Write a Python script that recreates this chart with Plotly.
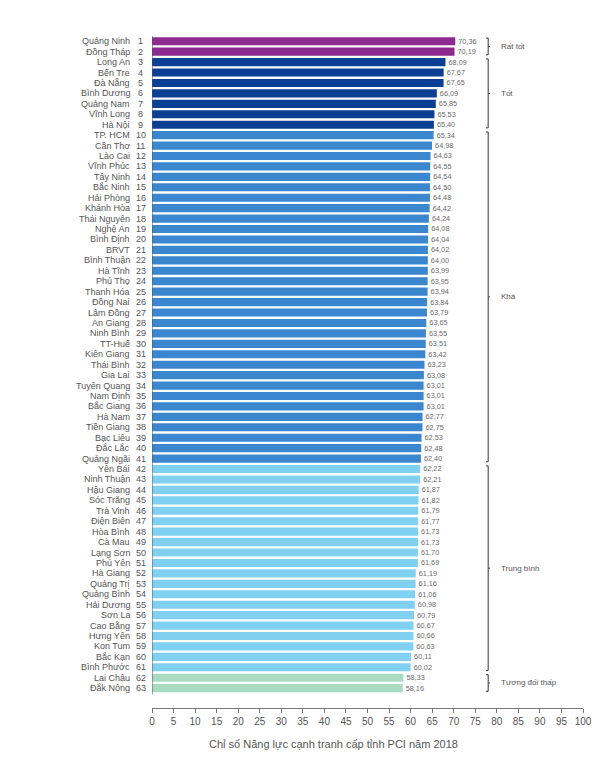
import plotly.graph_objects as go

provinces = ["Quảng Ninh", "Đồng Tháp", "Long An", "Bến Tre", "Đà Nẵng", "Bình Dương", "Quảng Nam",
             "Vĩnh Long", "Hà Nội", "TP. HCM", "Cần Thơ", "Lào Cai", "Vĩnh Phúc", "Tây Ninh",
             "Bắc Ninh", "Hải Phòng", "Khánh Hòa", "Thái Nguyên", "Nghệ An", "Bình Định", "BRVT",
             "Bình Thuận", "Hà Tĩnh", "Phú Thọ", "Thanh Hóa", "Đồng Nai", "Lâm Đồng", "An Giang",
             "Ninh Bình", "TT-Huế", "Kiên Giang", "Thái Bình", "Gia Lai", "Tuyên Quang", "Nam Định",
             "Bắc Giang", "Hà Nam", "Tiền Giang", "Bạc Liêu", "Đắc Lắc", "Quảng Ngãi", "Yên Bái",
             "Ninh Thuận", "Hậu Giang", "Sóc Trăng", "Trà Vinh", "Điện Biên", "Hòa Bình", "Cà Mau",
             "Lạng Sơn", "Phú Yên", "Hà Giang", "Quảng Trị", "Quảng Bình", "Hải Dương", "Sơn La",
             "Cao Bằng", "Hưng Yên", "Kon Tum", "Bắc Kạn", "Bình Phước", "Lai Châu", "Đắk Nông"]
ranks = list(range(1, 64))
scores = [70.36, 70.19, 68.09, 67.67, 67.65, 66.09, 65.85, 65.53, 65.40, 65.34,
          64.98, 64.63, 64.55, 64.54, 64.50, 64.48, 64.42, 64.24, 64.08, 64.04,
          64.02, 64.00, 63.99, 63.95, 63.94, 63.84, 63.79, 63.65, 63.55, 63.51,
          63.42, 63.23, 63.08, 63.01, 63.01, 63.01, 62.77, 62.75, 62.53, 62.48,
          62.40, 62.22, 62.21, 61.87, 61.82, 61.79, 61.77, 61.73, 61.73, 61.70,
          61.69, 61.19, 61.16, 61.06, 60.98, 60.79, 60.67, 60.66, 60.63, 60.11,
          60.02, 58.33, 58.16]
group_names = ["Rất tốt", "Tốt", "Khá", "Trung bình", "Tương đối thấp"]
group_sizes = [2, 7, 32, 20, 2]
group_colors = ["#8c2a8f", "#0b3f93", "#3a86cf", "#80d0f2", "#a9dbc3"]
x_ticks = list(range(0, 101, 5))

colors = []
for c, n in zip(group_colors, group_sizes):
    colors += [c] * n
idx = list(range(len(provinces)))

fig = go.Figure()
fig.add_trace(go.Bar(
    x=scores, y=idx, orientation="h",
    marker=dict(color=colors, line=dict(width=0)),
    width=0.78,
    text=[f"{v:.2f}".replace(".", ",") for v in scores],
    textposition="outside",
    textfont=dict(size=9, color="#6b6b6b", family="Liberation Sans"),
    cliponaxis=False,
    hoverinfo="skip",
))

annotations = []
for i, (p, r) in enumerate(zip(provinces, ranks)):
    annotations.append(dict(x=-0.047, xref="paper", y=i, yref="y", text=p, showarrow=False,
                            xanchor="right", yanchor="middle",
                            font=dict(size=9, color="#555555", family="Liberation Sans")))
    annotations.append(dict(x=-0.026, xref="paper", y=i, yref="y", text=str(r), showarrow=False,
                            xanchor="center", yanchor="middle",
                            font=dict(size=9, color="#555555", family="Liberation Sans")))

shapes = []
start = 0
bx = 78.0
for name, n in zip(group_names, group_sizes):
    y0 = start - 0.3
    y1 = start + n - 1 + 0.3
    ym = (y0 + y1) / 2
    line = dict(color="#333333", width=1)
    shapes.append(dict(type="line", x0=bx, x1=bx, y0=y0, y1=y1, xref="x", yref="y", line=line))
    shapes.append(dict(type="line", x0=bx - 0.5, x1=bx, y0=y0, y1=y0, xref="x", yref="y", line=line))
    shapes.append(dict(type="line", x0=bx - 0.5, x1=bx, y0=y1, y1=y1, xref="x", yref="y", line=line))
    shapes.append(dict(type="line", x0=bx, x1=bx + 0.4, y0=ym, y1=ym, xref="x", yref="y", line=line))
    annotations.append(dict(x=bx + 2.5, xref="x", y=ym, yref="y", text=name, showarrow=False,
                            xanchor="left", yanchor="middle",
                            font=dict(size=8, color="#555555", family="Liberation Sans")))
    start += n

# vertical axis line
shapes.append(dict(type="line", x0=0, x1=0, y0=-0.6, y1=len(provinces) - 0.4, xref="x", yref="y",
                   line=dict(color="#555555", width=1)))

annotations.append(dict(x=0.42, xref="paper", y=-0.041, yref="paper",
                        text="Chỉ số Năng lực cạnh tranh cấp tỉnh PCI năm 2018", showarrow=False,
                        xanchor="center", yanchor="top",
                        font=dict(size=11, color="#555555", family="Liberation Sans")))

fig.update_layout(
    width=600, height=775,
    margin=dict(l=144, r=25, t=28, b=75),
    paper_bgcolor="white", plot_bgcolor="white",
    showlegend=False,
    bargap=0.2,
    xaxis=dict(range=[0, 100], tickvals=x_ticks, ticktext=[str(t) for t in x_ticks],
               showgrid=False, zeroline=False, showline=True, linecolor="#777777", linewidth=1,
               ticks="outside", ticklen=4, tickcolor="#777777",
               tickfont=dict(size=10, color="#555555", family="Liberation Sans")),
    yaxis=dict(range=[63.9, -0.5], showticklabels=False, showgrid=False, zeroline=False,
               showline=False, ticks=""),
    annotations=annotations,
    shapes=shapes,
)

fig.write_html("out.html")
